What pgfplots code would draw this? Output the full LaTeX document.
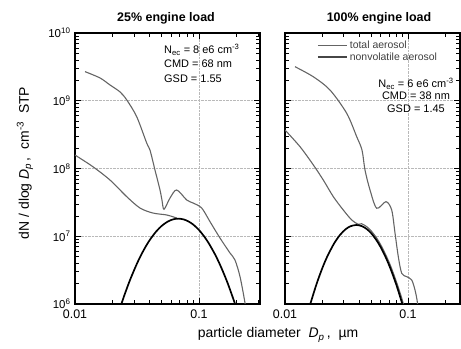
\documentclass[border=0pt]{standalone}
\usepackage{pgfplots}
\pgfplotsset{compat=1.18}
\usepackage{fontspec}
\setmainfont{Liberation Sans}
\definecolor{curvegray}{RGB}{100,100,100}
\begin{document}
\begin{tikzpicture}
\path[use as bounding box] (0,0) rectangle (461bp,349bp);
% ---------------- left panel ----------------
\begin{axis}[scale only axis, height=271bp, width=185bp,
  xmode=log, ymode=log,
  ymin=1e6, ymax=1e10, xmin=0.01, xmax=0.3104,
  at={(75bp,45bp)}, anchor=south west,
  xtick={0.01,0.1}, xticklabels={0.01,0.1},
  minor xtick={0.02,0.03,0.04,0.05,0.06,0.07,0.08,0.09,0.2,0.3},
  ytick={1e6,1e7,1e8,1e9,1e10},
  minor ytick={2e6,3e6,4e6,5e6,6e6,7e6,8e6,9e6,2e7,3e7,4e7,5e7,6e7,7e7,8e7,9e7,2e8,3e8,4e8,5e8,6e8,7e8,8e8,9e8,2e9,3e9,4e9,5e9,6e9,7e9,8e9,9e9},
  yticklabels={10\textsuperscript{6},10\textsuperscript{7},10\textsuperscript{8},10\textsuperscript{9},10\textsuperscript{10}},
  tick align=inside, major tick length=6bp, minor tick length=4bp,
  xmajorgrids, ymajorgrids, major grid style={densely dotted, gray!55, line width=0.6pt},
  axis line style={line width=1.1pt},
  tick style={black, line width=0.7pt},
  xticklabel style={font=\fontsize{12.5}{14}\selectfont, yshift=-2bp},
  yticklabel style={font=\fontsize{11.5}{13}\selectfont, xshift=-1bp}]
\addplot[curvegray, line width=1.1pt, smooth, tension=0.5] coordinates {
(0.01204,2.69e9) (0.01591,2.17e9) (0.01915,1.71e9) (0.02306,1.35e9) (0.02612,1.03e9)
(0.03145,5.82e8) (0.03785,2.38e8) (0.04025,1.87e8) (0.04416,9.5e7) (0.04847,4.82e7)
(0.0503,3.4e7) (0.05221,2.5e7) (0.0584,3.67e7) (0.06607,4.82e7) (0.0796,3.43e7)
(0.0894,3.10e7) (0.1051,2.61e7) (0.1227,1.64e7) (0.1476,9.42e6) (0.1778,5.66e6)
(0.195,4.46e6) (0.2142,2.53e6) (0.235,1.03e6) (0.24,7e5)};
\addplot[curvegray, line width=1.1pt, smooth, tension=0.5] coordinates {
(0.01,1.58e8) (0.01397,1.06e8) (0.01915,6.76e7) (0.02612,3.84e7) (0.03344,2.61e7)
(0.04256,2.20e7) (0.0549,2.06e7) (0.06607,1.86e7)};
\addplot[black, line width=1.7pt, smooth, tension=0.5] coordinates {
(0.023,8.55e5) (0.025,1.343e6) (0.028,2.344e6) (0.032,4.150e6) (0.036,6.353e6)
(0.040,8.75e6) (0.045,1.167e7) (0.050,1.422e7) (0.056,1.648e7) (0.062,1.778e7)
(0.068,1.820e7) (0.075,1.774e7) (0.082,1.660e7) (0.090,1.483e7) (0.100,1.236e7)
(0.110,9.95e6) (0.120,7.85e6) (0.135,5.35e6) (0.150,3.565e6) (0.170,2.046e6)
(0.195,1.012e6) (0.200,8.79e5)};
\end{axis}
% ---------------- right panel ----------------
\begin{axis}[scale only axis, height=271bp, width=175bp,
  xmode=log, ymode=log,
  ymin=1e6, ymax=1e10, xmin=0.01, xmax=0.2647,
  at={(285bp,45bp)}, anchor=south west,
  xtick={0.01,0.1}, xticklabels={0.01,0.1},
  minor xtick={0.02,0.03,0.04,0.05,0.06,0.07,0.08,0.09,0.2},
  ytick={1e6,1e7,1e8,1e9,1e10},
  minor ytick={2e6,3e6,4e6,5e6,6e6,7e6,8e6,9e6,2e7,3e7,4e7,5e7,6e7,7e7,8e7,9e7,2e8,3e8,4e8,5e8,6e8,7e8,8e8,9e8,2e9,3e9,4e9,5e9,6e9,7e9,8e9,9e9},
  yticklabels={},
  tick align=inside, major tick length=6bp, minor tick length=4bp,
  xmajorgrids, ymajorgrids, major grid style={densely dotted, gray!55, line width=0.6pt},
  axis line style={line width=1.1pt},
  tick style={black, line width=0.7pt},
  xticklabel style={font=\fontsize{12.5}{14}\selectfont, yshift=-2bp},
  legend style={draw=none, fill=none, at={(0.165,0.985)}, anchor=north west,
    font=\fontsize{10.5}{12}\selectfont, text=black!75, row sep=-1.5bp},
  legend cell align=left,
  legend image code/.code={\draw[#1] (0bp,0bp) -- (29bp,0bp);}]
\addlegendimage{curvegray, line width=0.9pt}
\addlegendentry{total aerosol}
\addlegendimage{curvegray!70!black, line width=1.8pt}
\addlegendentry{nonvolatile aerosol}
\addplot[curvegray, line width=1.1pt, smooth, tension=0.5, forget plot] coordinates {
(0.01206,3.18e9) (0.01699,2.26e9) (0.02322,1.44e9) (0.03174,6.53e8) (0.03828,2.95e8)
(0.04227,1.87e8) (0.04471,9.5e7) (0.0491,4.82e7) (0.05567,2.59e7) (0.0662,3.24e7)
(0.0737,2.44e7) (0.0784,1.12e7) (0.0834,4.99e6) (0.0889,2.84e6) (0.0976,2.53e6)
(0.1072,2.26e6) (0.114,1.61e6) (0.119,1.08e6) (0.1215,7e5)};
\addplot[curvegray, line width=1.1pt, smooth, tension=0.5, forget plot] coordinates {
(0.01,3.70e8) (0.01324,2.10e8) (0.01699,1.13e8) (0.02048,6.76e7) (0.0247,3.84e7)
(0.02978,2.44e7) (0.03485,1.74e7) (0.03945,1.50e7) (0.042,1.53e7) (0.046,1.39e7)
(0.050,1.21e7) (0.055,9.7e6) (0.060,7.5e6) (0.066,5.3e6) (0.072,3.7e6)
(0.080,2.2e6) (0.088,1.3e6) (0.094,8.5e5)};
\addplot[black, line width=1.7pt, smooth, tension=0.5, forget plot] coordinates {
(0.015,6.42e5) (0.016,9.76e5) (0.018,1.941e6) (0.020,3.296e6) (0.022,4.966e6)
(0.025,7.76e6) (0.028,1.045e7) (0.031,1.262e7) (0.034,1.403e7) (0.038,1.466e7)
(0.042,1.413e7) (0.046,1.285e7) (0.050,1.117e7) (0.055,8.93e6) (0.060,6.89e6)
(0.066,4.86e6) (0.072,3.34e6) (0.080,1.972e6) (0.088,1.140e6) (0.092,8.65e5)};
\end{axis}
% ---------------- texts ----------------
\node[font=\bfseries\fontsize{12.5}{14}\selectfont] at (166bp,331bp) {25\% engine load};
\node[font=\bfseries\fontsize{12.5}{14}\selectfont] at (379bp,331bp) {100\% engine load};
\node[anchor=north west, inner sep=0pt, align=left, font=\fontsize{11}{14.5}\selectfont] at (164bp,305bp)
 {N\textsubscript{ec} = 8 e6 cm\textsuperscript{-3}\\CMD = 68 nm\\GSD = 1.55};
\node[anchor=north, inner sep=0pt, align=center, font=\fontsize{11}{12.5}\selectfont] at (416bp,271bp)
 {N\textsubscript{ec} = 6 e6 cm\textsuperscript{-3}\\CMD = 38 nm\\GSD = 1.45};
\node[rotate=90, font=\fontsize{14}{16}\selectfont] at (25bp,186bp)
 {dN / dlog \textit{D}\textsubscript{\textit{p}}\,,\ \ cm\textsuperscript{-3}\ \ STP};
\node[font=\fontsize{14}{16}\selectfont] at (278bp,14bp)
 {particle diameter\ \ \textit{D}\textsubscript{\textit{p}}\,,\ \ µm};
\end{tikzpicture}
\end{document}
